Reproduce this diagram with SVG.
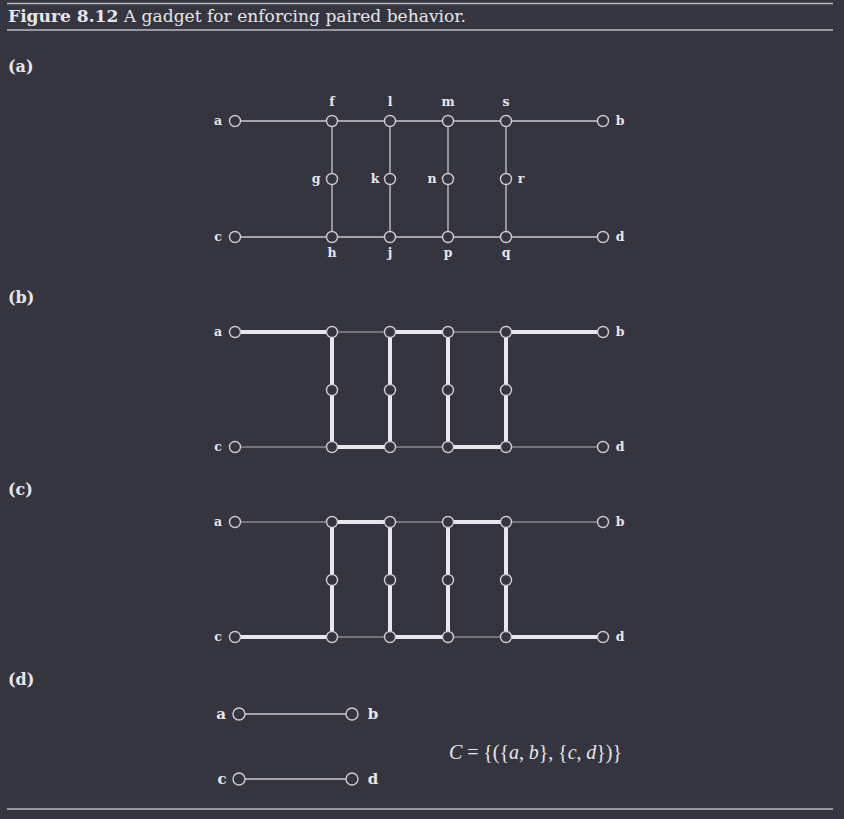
<svg xmlns="http://www.w3.org/2000/svg" width="844" height="819" viewBox="0 0 844 819">
<style>
text{font-family:"DejaVu Serif","Liberation Serif",serif;fill:#e6e6ea}
.t{font-size:17px}
.p{font-size:16px;font-weight:bold}
.lb{font-size:12.5px;text-anchor:middle;font-weight:bold}
.lb2{font-size:15px;text-anchor:middle;font-weight:bold}
.n{fill:#353540;stroke:#cdcdd1;stroke-width:1.4}
.e{stroke:#c8c8cc;stroke-width:1.3;fill:none}
.th{stroke:#e8e8ea;stroke-width:4;fill:none}
.tn{stroke:#8a8a92;stroke-width:1.5;fill:none}
.rule{stroke:#b8b8c0;stroke-width:1.5}
.m{font-family:"Liberation Serif",serif;font-size:20px}
</style>
<rect width="844" height="819" fill="#353540"/>
<line class="rule" x1="7" y1="3.5" x2="833" y2="3.5"/>
<line class="rule" x1="7" y1="30" x2="833" y2="30"/>
<line class="rule" x1="7" y1="809" x2="833" y2="809"/>
<text x="8" y="22" class="t" textLength="458" lengthAdjust="spacingAndGlyphs"><tspan font-weight="bold">Figure 8.12</tspan> A gadget for enforcing paired behavior.</text>
<text x="8" y="72" class="p">(a)</text>
<text x="8" y="303" class="p">(b)</text>
<text x="8" y="495" class="p">(c)</text>
<text x="8" y="685" class="p">(d)</text>

<g id="connectors">
  <g id="conn-a">
    <line class="e" x1="235" y1="121" x2="603" y2="121"/>
    <line class="e" x1="235" y1="237" x2="603" y2="237"/>
    <line class="e" x1="332" y1="121" x2="332" y2="237"/>
    <line class="e" x1="390" y1="121" x2="390" y2="237"/>
    <line class="e" x1="448" y1="121" x2="448" y2="237"/>
    <line class="e" x1="506" y1="121" x2="506" y2="237"/>
  </g>
  <g id="conn-b">
    <line class="th" x1="235" y1="332" x2="332" y2="332"/>
    <line class="tn" x1="332" y1="332" x2="390" y2="332"/>
    <line class="th" x1="390" y1="332" x2="448" y2="332"/>
    <line class="tn" x1="448" y1="332" x2="506" y2="332"/>
    <line class="th" x1="506" y1="332" x2="603" y2="332"/>
    <line class="tn" x1="235" y1="447" x2="332" y2="447"/>
    <line class="th" x1="332" y1="447" x2="390" y2="447"/>
    <line class="tn" x1="390" y1="447" x2="448" y2="447"/>
    <line class="th" x1="448" y1="447" x2="506" y2="447"/>
    <line class="tn" x1="506" y1="447" x2="603" y2="447"/>
    <line class="th" x1="332" y1="332" x2="332" y2="447"/>
    <line class="th" x1="390" y1="332" x2="390" y2="447"/>
    <line class="th" x1="448" y1="332" x2="448" y2="447"/>
    <line class="th" x1="506" y1="332" x2="506" y2="447"/>
  </g>
  <g id="conn-c">
    <line class="tn" x1="235" y1="522" x2="332" y2="522"/>
    <line class="th" x1="332" y1="522" x2="390" y2="522"/>
    <line class="tn" x1="390" y1="522" x2="448" y2="522"/>
    <line class="th" x1="448" y1="522" x2="506" y2="522"/>
    <line class="tn" x1="506" y1="522" x2="603" y2="522"/>
    <line class="th" x1="235" y1="637" x2="332" y2="637"/>
    <line class="tn" x1="332" y1="637" x2="390" y2="637"/>
    <line class="th" x1="390" y1="637" x2="448" y2="637"/>
    <line class="tn" x1="448" y1="637" x2="506" y2="637"/>
    <line class="th" x1="506" y1="637" x2="603" y2="637"/>
    <line class="th" x1="332" y1="522" x2="332" y2="637"/>
    <line class="th" x1="390" y1="522" x2="390" y2="637"/>
    <line class="th" x1="448" y1="522" x2="448" y2="637"/>
    <line class="th" x1="506" y1="522" x2="506" y2="637"/>
  </g>
  <g id="conn-d">
    <line class="e" x1="239" y1="714" x2="352" y2="714"/>
    <line class="e" x1="239" y1="779" x2="352" y2="779"/>
  </g>
</g>

<g id="a-a"><circle class="n" cx="235" cy="121" r="5.5"/><text class="lb" x="218" y="125">a</text></g>
<g id="a-b"><circle class="n" cx="603" cy="121" r="5.5"/><text class="lb" x="620" y="125">b</text></g>
<g id="a-c"><circle class="n" cx="235" cy="237" r="5.5"/><text class="lb" x="218" y="241">c</text></g>
<g id="a-d"><circle class="n" cx="603" cy="237" r="5.5"/><text class="lb" x="620" y="241">d</text></g>
<g id="a-f"><circle class="n" cx="332" cy="121" r="5.5"/><text class="lb" x="332" y="106">f</text></g>
<g id="a-l"><circle class="n" cx="390" cy="121" r="5.5"/><text class="lb" x="390" y="106">l</text></g>
<g id="a-m"><circle class="n" cx="448" cy="121" r="5.5"/><text class="lb" x="448" y="106">m</text></g>
<g id="a-s"><circle class="n" cx="506" cy="121" r="5.5"/><text class="lb" x="506" y="106">s</text></g>
<g id="a-g"><circle class="n" cx="332" cy="179" r="5.5"/><text class="lb" x="316" y="183">g</text></g>
<g id="a-k"><circle class="n" cx="390" cy="179" r="5.5"/><text class="lb" x="375" y="183">k</text></g>
<g id="a-n"><circle class="n" cx="448" cy="179" r="5.5"/><text class="lb" x="432" y="183">n</text></g>
<g id="a-r"><circle class="n" cx="506" cy="179" r="5.5"/><text class="lb" x="521" y="183">r</text></g>
<g id="a-h"><circle class="n" cx="332" cy="237" r="5.5"/><text class="lb" x="332" y="257">h</text></g>
<g id="a-j"><circle class="n" cx="390" cy="237" r="5.5"/><text class="lb" x="390" y="257">j</text></g>
<g id="a-p"><circle class="n" cx="448" cy="237" r="5.5"/><text class="lb" x="448" y="257">p</text></g>
<g id="a-q"><circle class="n" cx="506" cy="237" r="5.5"/><text class="lb" x="506" y="257">q</text></g>

<g id="b-a"><circle class="n" cx="235" cy="332" r="5.5"/><text class="lb" x="218" y="336">a</text></g>
<g id="b-b"><circle class="n" cx="603" cy="332" r="5.5"/><text class="lb" x="620" y="336">b</text></g>
<g id="b-c"><circle class="n" cx="235" cy="447" r="5.5"/><text class="lb" x="218" y="451">c</text></g>
<g id="b-d"><circle class="n" cx="603" cy="447" r="5.5"/><text class="lb" x="620" y="451">d</text></g>
<g id="b-f"><circle class="n" cx="332" cy="332" r="5.5"/></g>
<g id="b-l"><circle class="n" cx="390" cy="332" r="5.5"/></g>
<g id="b-m"><circle class="n" cx="448" cy="332" r="5.5"/></g>
<g id="b-s"><circle class="n" cx="506" cy="332" r="5.5"/></g>
<g id="b-g"><circle class="n" cx="332" cy="390" r="5.5"/></g>
<g id="b-k"><circle class="n" cx="390" cy="390" r="5.5"/></g>
<g id="b-n"><circle class="n" cx="448" cy="390" r="5.5"/></g>
<g id="b-r"><circle class="n" cx="506" cy="390" r="5.5"/></g>
<g id="b-h"><circle class="n" cx="332" cy="447" r="5.5"/></g>
<g id="b-j"><circle class="n" cx="390" cy="447" r="5.5"/></g>
<g id="b-p"><circle class="n" cx="448" cy="447" r="5.5"/></g>
<g id="b-q"><circle class="n" cx="506" cy="447" r="5.5"/></g>

<g id="c-a"><circle class="n" cx="235" cy="522" r="5.5"/><text class="lb" x="218" y="526">a</text></g>
<g id="c-b"><circle class="n" cx="603" cy="522" r="5.5"/><text class="lb" x="620" y="526">b</text></g>
<g id="c-c"><circle class="n" cx="235" cy="637" r="5.5"/><text class="lb" x="218" y="641">c</text></g>
<g id="c-d"><circle class="n" cx="603" cy="637" r="5.5"/><text class="lb" x="620" y="641">d</text></g>
<g id="c-f"><circle class="n" cx="332" cy="522" r="5.5"/></g>
<g id="c-l"><circle class="n" cx="390" cy="522" r="5.5"/></g>
<g id="c-m"><circle class="n" cx="448" cy="522" r="5.5"/></g>
<g id="c-s"><circle class="n" cx="506" cy="522" r="5.5"/></g>
<g id="c-g"><circle class="n" cx="332" cy="580" r="5.5"/></g>
<g id="c-k"><circle class="n" cx="390" cy="580" r="5.5"/></g>
<g id="c-n"><circle class="n" cx="448" cy="580" r="5.5"/></g>
<g id="c-r"><circle class="n" cx="506" cy="580" r="5.5"/></g>
<g id="c-h"><circle class="n" cx="332" cy="637" r="5.5"/></g>
<g id="c-j"><circle class="n" cx="390" cy="637" r="5.5"/></g>
<g id="c-p"><circle class="n" cx="448" cy="637" r="5.5"/></g>
<g id="c-q"><circle class="n" cx="506" cy="637" r="5.5"/></g>

<g id="d-a"><circle class="n" cx="239" cy="714" r="6"/><text class="lb2" x="221" y="719">a</text></g>
<g id="d-b"><circle class="n" cx="352" cy="714" r="6"/><text class="lb2" x="373" y="719">b</text></g>
<g id="d-c"><circle class="n" cx="239" cy="779" r="6"/><text class="lb2" x="222" y="784">c</text></g>
<g id="d-d"><circle class="n" cx="352" cy="779" r="6"/><text class="lb2" x="373" y="784">d</text></g>

<text class="m" x="449" y="759" textLength="173" lengthAdjust="spacing"><tspan font-style="italic">C</tspan> = {({<tspan font-style="italic">a</tspan>, <tspan font-style="italic">b</tspan>}, {<tspan font-style="italic">c</tspan>, <tspan font-style="italic">d</tspan>})}</text>
</svg>
